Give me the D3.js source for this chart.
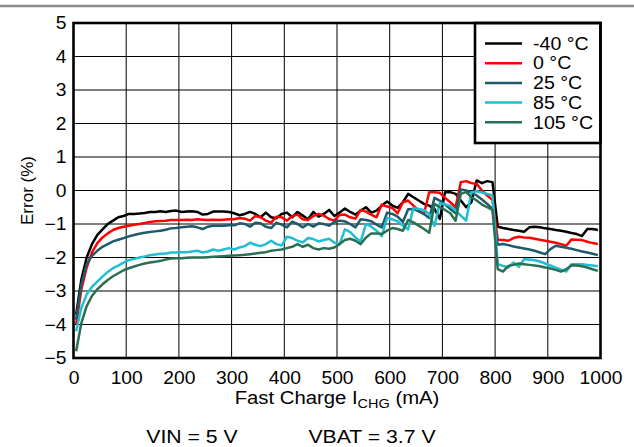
<!DOCTYPE html>
<html><head><meta charset="utf-8">
<script src="https://cdn.jsdelivr.net/npm/d3@7"></script>
<style>
body{margin:0;background:#fff}
text{font-family:"Liberation Sans",Arial,sans-serif;fill:#000}
</style></head>
<body><svg id="chart" width="634" height="447"></svg>
<script>
// ---- data ----
const currents = [5,15,25,35,45,55,65,75,85,95,105,115,125,135,145,155,165,175,185,195,
205,215,225,235,245,255,265,275,285,295,305,315,325,335,345,355,365,375,385,395,
405,415,425,435,445,455,465,475,485,495,505,515,525,535,545,555,565,575,585,595,
605,615,625,635,645,655,665,675,685,695,705,715,725,735,745,755,765,775,785,795,
805,815,825,835,845,855,865,875,885,895,905,915,925,935,945,955,965,975,985,995];

const errM40 = [-3.7,-2.65,-2.0,-1.6,-1.33,-1.16,-1.0,-0.9,-0.8,-0.76,
-0.7,-0.7,-0.69,-0.67,-0.64,-0.64,-0.62,-0.64,-0.61,-0.6,
-0.64,-0.63,-0.62,-0.64,-0.72,-0.7,-0.63,-0.63,-0.63,-0.64,
-0.68,-0.74,-0.7,-0.64,-0.7,-0.8,-0.66,-0.8,-0.83,-0.7,
-0.66,-0.8,-0.64,-0.75,-0.86,-0.64,-0.78,-0.7,-0.58,-0.76,
-0.66,-0.54,-0.64,-0.72,-0.6,-0.5,-0.66,-0.6,-0.45,-0.33,
-0.45,-0.52,-0.35,-0.1,-0.2,-0.3,-0.4,-0.45,-0.55,-0.85,
-0.05,-0.05,-0.1,-0.3,-0.5,-0.35,0.3,0.22,0.28,0.25,
-1.08,-1.12,-1.15,-1.18,-1.2,-1.23,-1.1,-1.08,-1.1,-1.13,
-1.15,-1.18,-1.2,-1.23,-1.27,-1.3,-1.36,-1.15,-1.15,-1.18];

const err0 = [-4.0,-2.95,-2.3,-1.85,-1.58,-1.4,-1.28,-1.18,-1.12,-1.08,
-1.05,-1.02,-1.0,-0.97,-0.94,-0.92,-0.91,-0.9,-0.88,-0.88,
-0.88,-0.87,-0.88,-0.86,-0.87,-0.88,-0.87,-0.88,-0.87,-0.86,
-0.86,-0.82,-0.84,-0.9,-0.76,-0.8,-0.9,-0.96,-0.78,-0.8,
-0.9,-0.76,-0.72,-0.86,-0.88,-0.76,-0.7,-0.75,-0.85,-0.9,
-0.73,-0.72,-0.8,-0.84,-0.58,-0.63,-0.72,-0.8,-0.42,-0.48,
-0.52,-0.68,-0.35,-0.3,-0.45,-0.6,-0.7,-0.05,-0.05,-0.07,
-0.22,-0.35,-0.5,0.25,0.28,0.22,0.2,0.0,-0.15,-0.28,
-1.47,-1.48,-1.5,-1.42,-1.38,-1.4,-1.41,-1.44,-1.47,-1.5,
-1.53,-1.56,-1.6,-1.65,-1.46,-1.47,-1.48,-1.53,-1.57,-1.6];

const err25 = [-3.85,-2.8,-2.2,-1.95,-1.8,-1.68,-1.6,-1.52,-1.47,-1.42,
-1.37,-1.33,-1.29,-1.26,-1.24,-1.22,-1.2,-1.17,-1.13,-1.12,
-1.1,-1.08,-1.07,-1.1,-1.15,-1.08,-1.05,-1.05,-1.05,-1.04,
-1.04,-0.98,-1.0,-1.08,-0.96,-0.98,-1.08,-1.12,-0.96,-1.02,
-1.1,-0.93,-1.0,-1.1,-1.0,-1.08,-0.98,-1.0,-1.05,-0.94,
-0.9,-0.92,-1.0,-1.1,-0.86,-0.88,-0.92,-1.02,-1.1,-0.66,
-0.7,-0.78,-0.94,-0.56,-0.55,-0.62,-0.7,-0.82,-0.22,-0.3,
-0.42,-0.55,-0.68,0.03,0.0,-0.06,-0.15,-0.27,-0.4,-0.55,
-1.62,-1.6,-1.63,-1.67,-1.7,-1.73,-1.76,-1.8,-1.85,-1.9,
-1.75,-1.65,-1.68,-1.71,-1.74,-1.78,-1.82,-1.85,-1.89,-1.93];

const err85 = [-4.2,-3.5,-3.1,-2.88,-2.72,-2.57,-2.43,-2.32,-2.24,-2.15,
-2.08,-2.04,-2.0,-1.97,-1.93,-1.91,-1.89,-1.88,-1.85,-1.85,
-1.84,-1.84,-1.82,-1.8,-1.85,-1.82,-1.76,-1.8,-1.76,-1.72,
-1.76,-1.7,-1.66,-1.56,-1.62,-1.66,-1.6,-1.5,-1.6,-1.64,
-1.38,-1.42,-1.5,-1.55,-1.42,-1.45,-1.52,-1.48,-1.44,-1.56,
-1.6,-1.16,-1.24,-1.4,-1.52,-1.0,-1.08,-1.2,-1.36,-0.82,
-0.86,-0.92,-1.05,-1.16,-0.52,-0.55,-0.58,-0.7,-1.06,-0.38,
-0.42,-0.46,-0.6,-0.75,-0.9,-0.05,-0.02,-0.06,-0.1,-0.15,
-2.2,-2.25,-2.3,-2.15,-2.28,-2.05,-2.06,-2.08,-2.12,-2.18,
-2.24,-2.3,-2.36,-2.42,-2.2,-2.2,-2.2,-2.22,-2.24,-2.26];

const err105 = [-4.8,-3.95,-3.45,-3.15,-2.95,-2.8,-2.67,-2.56,-2.47,-2.38,
-2.32,-2.27,-2.22,-2.18,-2.15,-2.13,-2.1,-2.06,-2.03,-2.02,
-2.02,-2.01,-2.0,-2.0,-2.0,-1.99,-1.98,-1.97,-1.96,-1.95,
-1.94,-1.93,-1.92,-1.9,-1.88,-1.86,-1.84,-1.8,-1.78,-1.76,
-1.72,-1.68,-1.6,-1.68,-1.62,-1.72,-1.76,-1.72,-1.74,-1.7,
-1.6,-1.48,-1.44,-1.5,-1.6,-1.4,-1.28,-1.28,-1.3,-1.2,
-1.12,-1.15,-1.2,-0.88,-0.95,-1.05,-1.15,-1.26,-0.4,-0.5,
-0.58,-0.68,-0.9,-0.1,-0.05,-0.2,-0.3,-0.42,-0.5,-0.58,
-2.35,-2.42,-2.25,-2.22,-2.18,-2.2,-2.22,-2.24,-2.26,-2.3,
-2.33,-2.37,-2.42,-2.35,-2.23,-2.24,-2.26,-2.3,-2.35,-2.4];

const seriesNames = ["-40 °C","0 °C","25 °C","85 °C","105 °C"];
const seriesColors = ["#000000","#ff0000","#1d5a6c","#1fbed3","#2b6f52"];
const seriesValues = [errM40, err0, err25, err85, err105];

const xTicks = [0,100,200,300,400,500,600,700,800,900,1000];
const yTicks = [-5,-4,-3,-2,-1,0,1,2,3,4,5];

// ---- layout ----
const svg = d3.select("#chart");
const L = 73.5, R = 600.5, T = 23, B = 358;
const x = d3.scaleLinear().domain([0,1000]).range([L,R]);
const y = d3.scaleLinear().domain([-5,5]).range([B,T]);
const FONT = '"Liberation Sans",Arial,sans-serif';

function stext(px, py, str, size, sx, anchor){
  return svg.append("text")
    .attr("transform",`translate(${px},${py}) scale(${sx},1)`)
    .attr("text-anchor",anchor||"middle").attr("font-size",size).text(str);
}

svg.append("rect").attr("width",634).attr("height",447).attr("fill","#fff");
svg.append("line").attr("x1",0).attr("x2",634).attr("y1",6).attr("y2",6)
  .attr("stroke","#8c8c8c").attr("stroke-width",2.5);

// grid
const grid = svg.append("g");
grid.selectAll(".vg").data(xTicks.slice(1,-1)).join("line")
  .attr("x1",d=>x(d)).attr("x2",d=>x(d)).attr("y1",T).attr("y2",B)
  .attr("stroke","#000").attr("stroke-width",1);
grid.selectAll(".hg").data(yTicks.slice(1,-1)).join("line")
  .attr("x1",L).attr("x2",R).attr("y1",d=>y(d)).attr("y2",d=>y(d))
  .attr("stroke","#000").attr("stroke-width",1);

// axes labels
const xAxis = d3.axisBottom(x).tickValues(xTicks).tickSize(0).tickPadding(14).tickFormat(d3.format("d"));
const gx = svg.append("g").attr("transform",`translate(0,${B})`).call(xAxis);
gx.select(".domain").remove();
gx.selectAll("text").attr("font-size",17.5).attr("font-family",FONT).attr("fill","#000")
  .attr("transform","scale(1.1,1)");

const yAxis = d3.axisLeft(y).tickValues(yTicks).tickSize(0).tickPadding(6.5).tickFormat(d3.format("d"));
const gy = svg.append("g").attr("transform",`translate(${L},0)`).call(yAxis);
gy.select(".domain").remove();
gy.selectAll("text").attr("font-size",17.5).attr("font-family",FONT).attr("fill","#000")
  .attr("transform","scale(1.1,1)");

// clip
svg.append("clipPath").attr("id","clip").append("rect")
  .attr("x",L).attr("y",T).attr("width",R-L).attr("height",B-T);

const line = d3.line().x((d,i)=>x(currents[i])).y(d=>y(d));
const lines = svg.append("g").attr("clip-path","url(#clip)");
seriesValues.forEach((vals,k)=>{
  lines.append("path").datum(vals).attr("d",line)
    .attr("fill","none").attr("stroke",seriesColors[k]).attr("stroke-width",2.5)
    .attr("stroke-linejoin","round");
});

// legend
const lg = svg.append("g");
lg.append("rect").attr("x",475).attr("y",T).attr("width",R-475).attr("height",120)
  .attr("fill","#fff").attr("stroke","#000").attr("stroke-width",2.6);
seriesNames.forEach((n,i)=>{
  const yy = 43.5 + i*19.7;
  lg.append("line").attr("x1",485).attr("x2",522).attr("y1",yy).attr("y2",yy)
    .attr("stroke",seriesColors[i]).attr("stroke-width",2.5);
  stext(533, yy+6.2, n, 17.5, 1.12, "start");
});

// frame
svg.append("rect").attr("x",L).attr("y",T).attr("width",R-L).attr("height",B-T)
  .attr("fill","none").attr("stroke","#000").attr("stroke-width",2.6);

// titles
svg.append("text").attr("transform",`translate(33,${(T+B)/2}) rotate(-90)`)
  .attr("text-anchor","middle").attr("font-size",17).text("Error (%)");
const xt = svg.append("text")
  .attr("transform",`translate(${(L+R)/2},404) scale(1.16,1)`)
  .attr("text-anchor","middle").attr("font-size",17.5);
xt.append("tspan").text("Fast Charge I");
xt.append("tspan").attr("font-size",12.5).attr("dy",4).text("CHG");
xt.append("tspan").attr("dy",-4).text(" (mA)");

stext(192, 443, "VIN = 5 V", 18, 1.18, "middle");
stext(372, 443, "VBAT = 3.7 V", 18, 1.18, "middle");
</script></body></html>
